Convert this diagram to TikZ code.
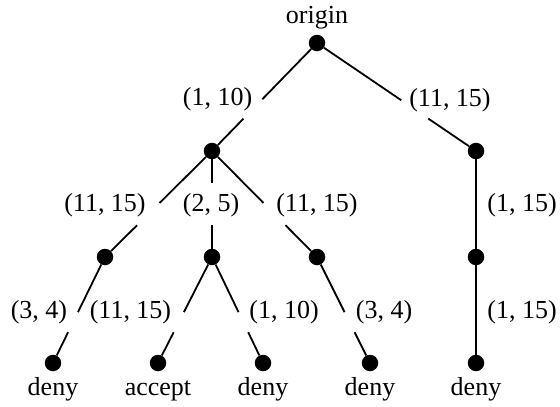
\documentclass[tikz,border=0pt]{standalone}
\usepackage{fontspec}
\setmainfont{Liberation Serif}
\usetikzlibrary{calc}
\newcommand{\GapEdge}[4]{%
  \draw[edge] (#1) -- ($(#1)!#3!(#2)$);
  \draw[edge] ($(#1)!#4!(#2)$) -- (#2);}
\begin{document}
\begin{tikzpicture}[x=1pt,y=-1pt,
  dot/.style={circle,fill=black,inner sep=0pt,minimum size=16.5pt},
  edge/.style={line width=1.8pt},
  lbl/.style={inner sep=0pt,font=\fontsize{26}{30}\selectfont},
  leaf/.style={lbl,anchor=base}]
\useasboundingbox (0,0) rectangle (560,407);
% nodes
\node[dot] (root) at (317,43) {};
\node[dot] (A) at (212,151) {};
\node[dot] (B) at (476,151) {};
\node[dot] (A1) at (105,257) {};
\node[dot] (A2) at (212,257) {};
\node[dot] (A3) at (317,257) {};
\node[dot] (B1) at (476,257) {};
\node[dot] (L1) at (53,363) {};
\node[dot] (L2) at (158,363) {};
\node[dot] (L3) at (263,363) {};
\node[dot] (L4) at (370,363) {};
\node[dot] (L5) at (476,363) {};
% texts
\node[leaf] (torigin) at (317,23) {origin};
\node[leaf] (t1) at (53,395) {deny};
\node[leaf] (t2) at (158,395) {accept};
\node[leaf] (t3) at (263,395) {deny};
\node[leaf] (t4) at (370,395) {deny};
\node[leaf] (t5) at (476,395) {deny};
% edge labels
\node[lbl] (e1) at (217.5,99) {(1, 10)};
\node[lbl] (e2) at (450,100) {(11, 15)};
\node[lbl] (e3) at (105,205) {(11, 15)};
\node[lbl] (e4) at (211,205) {(2, 5)};
\node[lbl] (e5) at (317,205) {(11, 15)};
\node[lbl] (e6) at (522,205) {(1, 15)};
\node[lbl] (e7) at (39,312) {(3, 4)};
\node[lbl] (e8) at (130.5,312) {(11, 15)};
\node[lbl] (e9) at (284,312) {(1, 10)};
\node[lbl] (e10) at (384,312) {(3, 4)};
\node[lbl] (e11) at (522,312) {(1, 15)};
% edges
\GapEdge{root}{A}{0.52}{0.70}
\GapEdge{root}{B}{0.53}{0.70}
\GapEdge{A}{A1}{0.49}{0.70}
\GapEdge{A}{A2}{0.30}{0.70}
\GapEdge{A}{A3}{0.49}{0.70}
\GapEdge{A1}{L1}{0.52}{0.71}
\GapEdge{A2}{L2}{0.52}{0.71}
\GapEdge{A2}{L3}{0.52}{0.71}
\GapEdge{A3}{L4}{0.52}{0.71}
\draw[edge] (B) -- (B1);
\draw[edge] (B1) -- (L5);
\end{tikzpicture}
\end{document}
